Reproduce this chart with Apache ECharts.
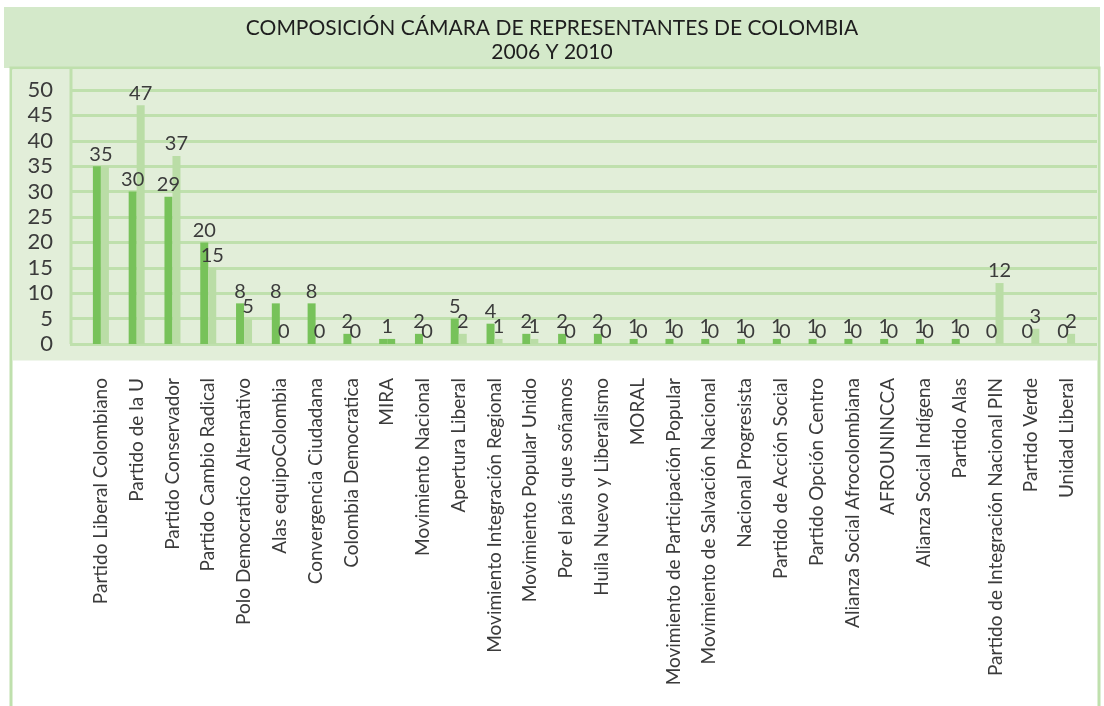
<!DOCTYPE html>
<html>
<head>
<meta charset="utf-8">
<script src="https://cdn.jsdelivr.net/npm/echarts@6/dist/echarts.min.js"></script>
<style>
  html, body { margin: 0; padding: 0; background: #fff; }
  #chart { width: 1104px; height: 706px; }
</style>
</head>
<body>
<div id="chart"></div>
<script>
// partidos
const partidos = [
    'Partido Liberal Colombiano', 'Partido de la U', 'Partido Conservador',
    'Partido Cambio Radical', 'Polo Democratico Alternativo', 'Alas equipoColombia',
    'Convergencia Ciudadana', 'Colombia Democratica', 'MIRA', 'Movimiento Nacional',
    'Apertura Liberal', 'Movimiento Integración Regional', 'Movimiento Popular Unido',
    'Por el país que soñamos', 'Huila Nuevo y Liberalismo', 'MORAL',
    'Movimiento de Participación Popular', 'Movimiento de Salvación Nacional',
    'Nacional Progresista', 'Partido de Acción Social', 'Partido Opción Centro',
    'Alianza Social Afrocolombiana', 'AFROUNINCCA', 'Alianza Social Indígena',
    'Partido Alas', 'Partido de Integración Nacional PIN', 'Partido Verde', 'Unidad Liberal'
]
// curules 2006
const curules2006 = [35, 30, 29, 20, 8, 8, 8, 2, 1, 2, 5, 4, 2, 2, 2, 1, 1, 1, 1, 1, 1, 1, 1, 1, 1, 0, 0, 0]
// curules 2010
const curules2010 = [35, 47, 37, 15, 5, 0, 0, 0, 1, 0, 2, 1, 1, 0, 0, 0, 0, 0, 0, 0, 0, 0, 0, 0, 0, 12, 3, 2]
const yTicks = { min: 0, max: 50, interval: 5 }

const oscuro = '#77c25a'
const claro = '#badda6'
const linea = '#bfe0ad'
const texto = '#3b3b3b'
const fuente = 'Lato'

// cuando los dos años son iguales se ve una sola etiqueta centrada
const iguales = (i) => curules2006[i] === curules2010[i] && curules2006[i] > 0

const datos2006 = curules2006.map((v, i) => {
    if (iguales(i)) {
        return { value: v, label: { offset: [4, 0] } }
    }
    return v
})

// MIRA 2010 se ve del mismo color que 2006
const datos2010 = curules2010.map((v, i) => {
    const item = { value: v }
    if (iguales(i)) item.label = { show: false }
    if (partidos[i] === 'MIRA') item.itemStyle = { color: oscuro }
    return item
})

const etiqueta = {
    show: true,
    position: 'top',
    distance: 2,
    fontFamily: fuente,
    fontSize: 20,
    color: texto
}

const option = {
    animation: false,
    backgroundColor: '#fff',
    title: {
        text: 'COMPOSICIÓN CÁMARA DE REPRESENTANTES DE COLOMBIA\n2006 Y 2010',
        left: 'center',
        top: 11,
        textStyle: {
            fontFamily: fuente,
            fontSize: 21,
            fontWeight: 'normal',
            color: '#1e1e1e',
            lineHeight: 24
        }
    },
    graphic: [
        {
            type: 'rect', z: -10, silent: true,
            shape: { x: 4, y: 7, width: 1096, height: 61 },
            style: { fill: '#d4e9ca' }
        },
        {
            type: 'rect', z: -10, silent: true,
            shape: { x: 11, y: 68, width: 1088, height: 660 },
            style: { fill: '#fff', stroke: linea, lineWidth: 3 }
        },
        {
            type: 'rect', z: -9, silent: true,
            shape: { x: 12.5, y: 69.5, width: 1085, height: 291 },
            style: { fill: '#e2eed9' }
        },
        {
            type: 'line', z: -8, silent: true,
            shape: { x1: 71, y1: 69, x2: 71, y2: 344 },
            style: { stroke: linea, lineWidth: 3 }
        }
    ],
    grid: [
        { left: 70, right: 7, top: 90, bottom: 362 },
        { left: 83, right: 19, top: 90, bottom: 362 }
    ],
    xAxis: [
        { gridIndex: 0, type: 'value', min: 0, max: 1, show: false },
        {
            gridIndex: 1,
            type: 'category',
            data: partidos,
            axisLine: { show: false },
            axisTick: { show: false },
            axisLabel: {
                rotate: 90,
                interval: 0,
                margin: 34,
                fontFamily: fuente,
                fontSize: 19,
                color: texto
            }
        }
    ],
    yAxis: [
        {
            gridIndex: 0,
            type: 'value',
            min: yTicks.min,
            max: yTicks.max,
            interval: yTicks.interval,
            axisLine: { show: false },
            axisTick: { show: false },
            splitLine: { lineStyle: { color: linea, width: 3 } },
            axisLabel: {
                margin: 17,
                fontFamily: fuente,
                fontSize: 22,
                color: texto
            }
        },
        {
            gridIndex: 1,
            type: 'value',
            min: yTicks.min,
            max: yTicks.max,
            show: false
        }
    ],
    series: [
        {
            name: '2006',
            type: 'bar',
            xAxisIndex: 1,
            yAxisIndex: 1,
            data: datos2006,
            barWidth: 8,
            barGap: '0%',
            itemStyle: { color: oscuro },
            label: etiqueta
        },
        {
            name: '2010',
            type: 'bar',
            xAxisIndex: 1,
            yAxisIndex: 1,
            data: datos2010,
            barWidth: 8,
            barGap: '0%',
            itemStyle: { color: claro },
            label: etiqueta
        }
    ]
}

const myChart = echarts.init(document.getElementById('chart'))
myChart.setOption(option)
window.addEventListener('resize', () => {
    myChart.resize()
})
</script>
</body>
</html>
